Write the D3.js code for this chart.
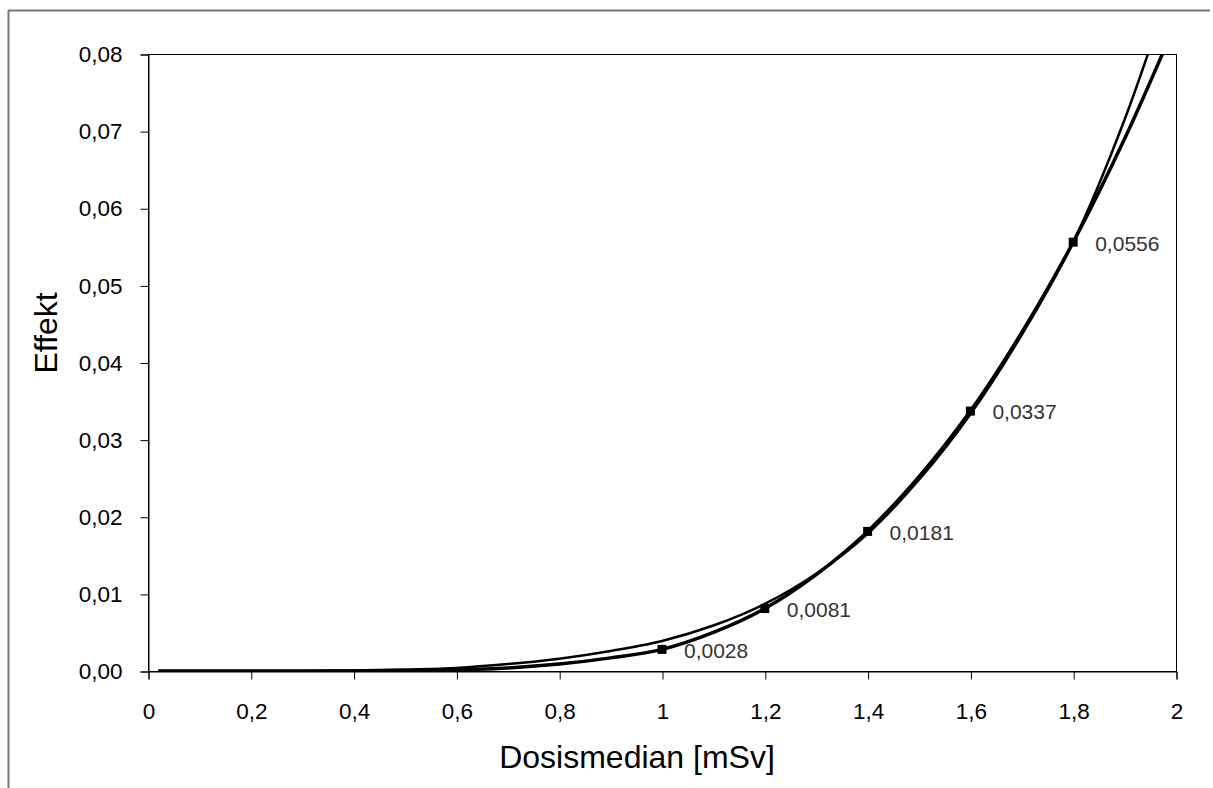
<!DOCTYPE html>
<html>
<head>
<meta charset="utf-8">
<script src="https://cdn.jsdelivr.net/npm/d3@7"></script>
<style>
  html, body { margin: 0; padding: 0; background: #fff; }
  svg { display: block; font-family: "Liberation Sans", Arial, sans-serif; }
</style>
</head>
<body>
<svg id="chart" width="1213" height="788"></svg>
<script>
// ---- data ----
const doseX = [0.02, 0.1, 0.2, 0.3, 0.4, 0.5, 0.6, 0.7, 0.8, 0.9, 1.0, 1.1, 1.2, 1.3, 1.4, 1.5, 1.6, 1.7, 1.8, 1.9, 2.0];
const observedY = [0, 0, 0, 0, 0.00001, 0.00004, 0.00015, 0.0004, 0.0009, 0.0017, 0.0028, 0.0050, 0.0081, 0.0125, 0.0181, 0.0252, 0.0337, 0.0439, 0.0556, 0.0690, 0.0841];
const fitY = [0, 0, 0, 0.00001, 0.00005, 0.0002, 0.0004, 0.0009, 0.0016, 0.0026, 0.0039, 0.0059, 0.0087, 0.0126, 0.0178, 0.0248, 0.0333, 0.0436, 0.0556, 0.0715, 0.091];
const markerX = [1.0, 1.2, 1.4, 1.6, 1.8];
const markerY = [0.0028, 0.0081, 0.0181, 0.0337, 0.0556];
const xTicks = [0, 0.2, 0.4, 0.6, 0.8, 1, 1.2, 1.4, 1.6, 1.8, 2];
const yTicks = [0, 0.01, 0.02, 0.03, 0.04, 0.05, 0.06, 0.07, 0.08];
const xTitle = "Dosismedian [mSv]";
const yTitle = "Effekt";

// ---- layout ----
const svg = d3.select("#chart");
const L = 148, T = 54, R = 1176, B = 671;
const x = d3.scaleLinear().domain([0, 2]).range([L, R]);
const y = d3.scaleLinear().domain([0, 0.08]).range([B, T]);
const comma = s => s.replace(".", ",");

// outer frame (top & left visible)
svg.append("line").attr("x1", 8).attr("y1", 10.5).attr("x2", 1210).attr("y2", 10.5)
  .attr("stroke", "#777").attr("stroke-width", 2);
svg.append("line").attr("x1", 8.5).attr("y1", 10).attr("x2", 8.5).attr("y2", 788)
  .attr("stroke", "#777").attr("stroke-width", 2);

// plot area border
svg.append("rect").attr("x", L + 0.5).attr("y", T + 0.5)
  .attr("width", R - L).attr("height", B - T)
  .attr("fill", "none").attr("stroke", "#000").attr("stroke-width", 1);

// axes
const yAxis = d3.axisLeft(y).tickValues(yTicks).tickSize(8).tickPadding(18)
  .tickFormat(d => comma(d3.format(".2f")(d)));
const gy = svg.append("g").attr("transform", `translate(${L + 0.5},0.5)`).call(yAxis);
const xAxis = d3.axisBottom(x).tickValues(xTicks).tickSize(8).tickPadding(24)
  .tickFormat(d => comma(d3.format("~g")(d)));
const gx = svg.append("g").attr("transform", `translate(0.5,${B + 0.5})`).call(xAxis);
[gx, gy].forEach(g => {
  g.select(".domain").attr("stroke", "#000");
  g.selectAll(".tick line").attr("stroke", "#000");
  g.selectAll(".tick text").attr("fill", "#000").style("font-size", "22.5px")
    .style("font-family", "'Liberation Sans', Arial, sans-serif");
});

// clip
svg.append("clipPath").attr("id", "clip").append("rect")
  .attr("x", L).attr("y", T).attr("width", R - L).attr("height", B - T);

const line = d3.line().x(d => x(d[0])).y(d => y(d[1])).curve(d3.curveCatmullRom);
const plot = svg.append("g").attr("clip-path", "url(#clip)");
plot.append("path").datum(doseX.map((d, i) => [d, fitY[i]]))
  .attr("d", line).attr("fill", "none").attr("stroke", "#000").attr("stroke-width", 2.5);
plot.append("path").datum(doseX.map((d, i) => [d, observedY[i]]))
  .attr("d", line).attr("fill", "none").attr("stroke", "#000").attr("stroke-width", 3.5);

// markers
const pts = markerX.map((d, i) => [d, markerY[i]]);
svg.selectAll("rect.mk").data(pts).enter().append("rect").attr("class", "mk")
  .attr("x", d => x(d[0]) - 4.5).attr("y", d => y(d[1]) - 4.5)
  .attr("width", 9).attr("height", 9).attr("fill", "#000");
svg.selectAll("text.lbl").data(pts).enter().append("text").attr("class", "lbl")
  .attr("x", d => x(d[0]) + 22).attr("y", d => y(d[1]) + 1)
  .attr("dy", "0.35em").attr("fill", "#333").style("font-size", "21px")
  .text(d => comma(String(d[1])));

// titles
svg.append("text").attr("x", 637).attr("y", 757).attr("dy", "0.35em")
  .attr("text-anchor", "middle").style("font-size", "32px").attr("fill", "#000").text(xTitle);
svg.append("text").attr("transform", "translate(46,333) rotate(-90)").attr("dy", "0.35em")
  .attr("text-anchor", "middle").style("font-size", "32px").attr("fill", "#000").text(yTitle);
</script>
</body>
</html>
